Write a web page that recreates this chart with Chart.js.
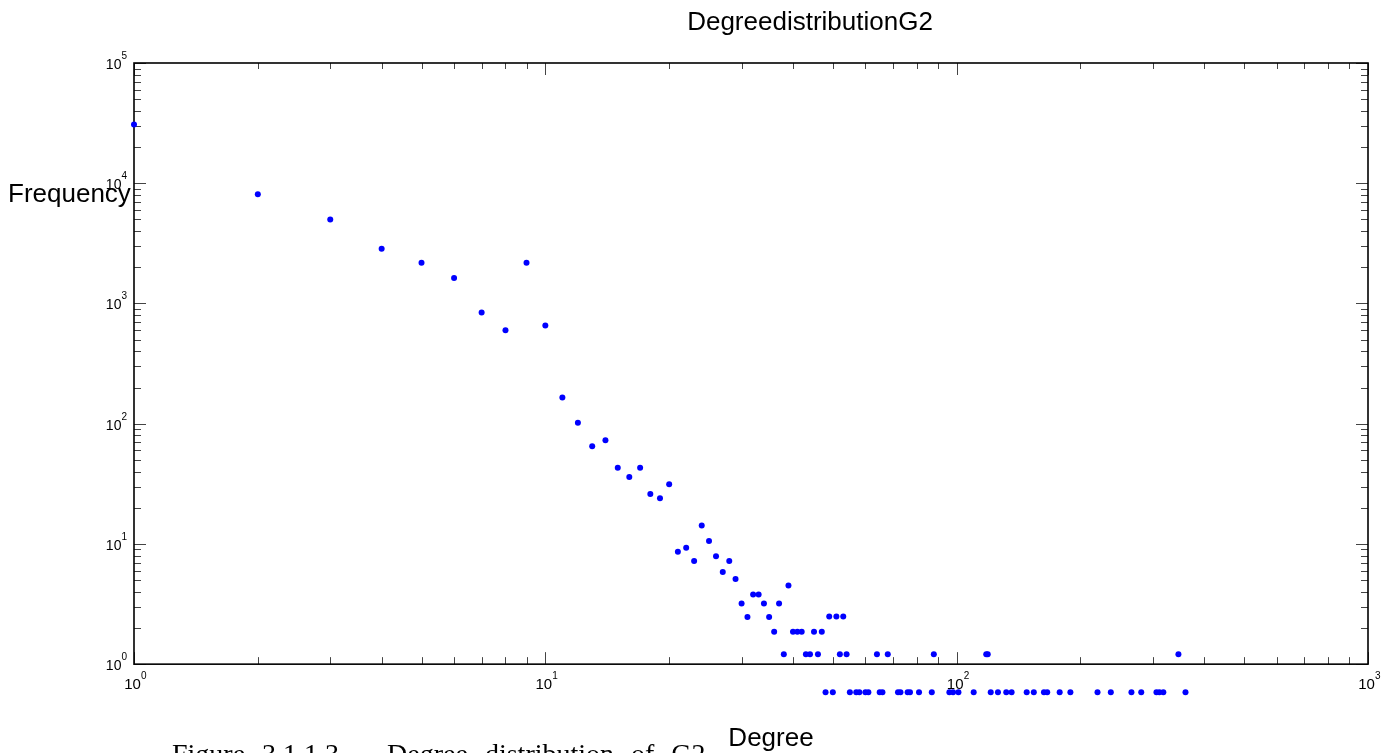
<!DOCTYPE html>
<html>
<head>
<meta charset="utf-8">
<script src="https://cdn.jsdelivr.net/npm/chart.js@4.4.1/dist/chart.umd.min.js"></script>
<style>
    html, body { margin: 0; padding: 0; background: #fff; }
    #wrap { width: 1397px; height: 753px; position: relative; }
</style>
</head>
<body>
<div id="wrap"><canvas id="degreeChart" width="1397" height="753"></canvas></div>
<script>
// Degree distribution of G2
const degrees = [
    1, 2, 3, 4, 5, 6, 7, 8, 9, 10,
    11, 12, 13, 14, 15, 16, 17, 18, 19, 20,
    21, 22, 23, 24, 25, 26, 27, 28, 29, 30,
    31, 32, 33, 34, 35, 36, 37, 38, 39, 40,
    41, 42, 43, 44, 45, 46, 47, 48, 49, 50,
    51, 52, 53, 54, 55, 57, 58, 60, 61, 64,
    65, 66, 68, 72, 73, 76, 77, 81, 87, 88,
    96, 98, 101, 110, 118, 119, 121, 126, 132, 136,
    148, 154, 163, 166, 178, 189, 220, 237, 266, 281,
    306, 311, 318, 346, 360
];
const frequencies = [
    30800, 8100, 5000, 2850, 2180, 1630, 840, 600, 2180, 655,
    165, 102, 65, 73, 43, 36, 43, 26, 24, 31.4,
    8.6, 9.3, 7.2, 14.2, 10.6, 7.9, 5.85, 7.2, 5.1, 3.2,
    2.47, 3.8, 3.8, 3.2, 2.47, 1.86, 3.2, 1.21, 4.5, 1.86,
    1.86, 1.86, 1.21, 1.21, 1.86, 1.21, 1.86, 0.585, 2.49, 0.585,
    2.49, 1.21, 2.49, 1.21, 0.585, 0.585, 0.585, 0.585, 0.585, 1.21,
    0.585, 0.585, 1.21, 0.585, 0.585, 0.585, 0.585, 0.585, 0.585, 1.21,
    0.585, 0.585, 0.585, 0.585, 1.21, 1.21, 0.585, 0.585, 0.585, 0.585,
    0.585, 0.585, 0.585, 0.585, 0.585, 0.585, 0.585, 0.585, 0.585, 0.585,
    0.585, 0.585, 0.585, 1.21, 0.585
];

// Axis decades (powers of ten)
const xDecades = [0, 1, 2, 3];
const yDecades = [0, 1, 2, 3, 4, 5];

const titleText = 'DegreedistributionG2';
const xLabelText = 'Degree';
const yLabelText = 'Frequency';
const captionText = 'Figure 3.1.1.3 \u2013 Degree distribution of G2';

const SANS = "'Liberation Sans', Arial, sans-serif";
const SERIF = "'Liberation Serif', 'Times New Roman', serif";

// The visible box runs from 10^0 to 10^5; the y scale goes a bit lower so the
// sub-1 points (drawn below the box in the original) are still painted.
const Y_BOX_MIN = 1;
const Y_BOX_MAX = 100000;

function boxOf(chart) {
    const xs = chart.scales.x;
    const ys = chart.scales.y;
    return {
        left: xs.getPixelForValue(xs.min),
        right: xs.getPixelForValue(xs.max),
        top: ys.getPixelForValue(Y_BOX_MAX),
        bottom: ys.getPixelForValue(Y_BOX_MIN)
    };
}

// Box frame with inward ticks on all four sides, drawn under the points
const framePlugin = {
    id: 'frame',
    beforeDatasetsDraw(chart) {
        const ctx = chart.ctx;
        const box = boxOf(chart);
        const xs = chart.scales.x;
        const ys = chart.scales.y;
        ctx.save();

        ctx.strokeStyle = '#444';
        ctx.lineWidth = 1;
        // x ticks (bottom and top)
        xDecades.forEach(d => {
            for (let k = 1; k <= 9; k++) {
                const v = k * Math.pow(10, d);
                if (v > xs.max) break;
                const px = Math.round(xs.getPixelForValue(v)) + 0.5;
                ctx.beginPath();
                ctx.moveTo(px, box.bottom);
                ctx.lineTo(px, box.bottom - (k === 1 ? 12 : 7));
                ctx.moveTo(px, box.top);
                ctx.lineTo(px, box.top + (k === 1 ? 12 : 6));
                ctx.stroke();
            }
        });
        // y ticks (left and right)
        yDecades.forEach(d => {
            for (let k = 1; k <= 9; k++) {
                const v = k * Math.pow(10, d);
                if (v > Y_BOX_MAX) break;
                const py = Math.round(ys.getPixelForValue(v)) + 0.5;
                const len = k === 1 ? 12 : 7;
                ctx.beginPath();
                ctx.moveTo(box.left, py);
                ctx.lineTo(box.left + len, py);
                ctx.moveTo(box.right, py);
                ctx.lineTo(box.right - len, py);
                ctx.stroke();
            }
        });

        ctx.strokeStyle = '#000';
        ctx.lineWidth = 1.6;
        ctx.strokeRect(box.left, box.top, box.right - box.left, box.bottom - box.top);
        ctx.restore();
    },
    afterDraw(chart) {
        const ctx = chart.ctx;
        const box = boxOf(chart);
        const xs = chart.scales.x;
        const ys = chart.scales.y;
        ctx.save();
        ctx.fillStyle = '#000';
        ctx.textBaseline = 'alphabetic';

        // y tick labels: 10 with superscript exponent
        yDecades.forEach(d => {
            const py = ys.getPixelForValue(Math.pow(10, d));
            ctx.font = '10px ' + SANS;
            const supW = ctx.measureText(String(d)).width;
            const supX = box.left - 7 - supW;
            ctx.textAlign = 'left';
            ctx.fillText(String(d), supX, py - 4);
            ctx.font = '14px ' + SANS;
            ctx.textAlign = 'right';
            ctx.fillText('10', supX, py + 6);
        });

        // x tick labels
        xDecades.forEach(d => {
            const px = xs.getPixelForValue(Math.pow(10, d));
            ctx.font = '15px ' + SANS;
            ctx.textAlign = 'center';
            ctx.fillText('10', px - 1.5, box.bottom + 25);
            ctx.font = '10px ' + SANS;
            ctx.textAlign = 'left';
            ctx.fillText(String(d), px + 7, box.bottom + 15);
        });

        // title and axis labels
        ctx.font = '26px ' + SANS;
        ctx.textAlign = 'center';
        ctx.fillText(titleText, 810, 30);
        ctx.fillText(xLabelText, 771, 746);
        ctx.textAlign = 'left';
        ctx.fillText(yLabelText, 8, 202);

        // figure caption, cut by the bottom edge
        ctx.font = '28px ' + SERIF;
        ctx.textAlign = 'left';
        if ('wordSpacing' in ctx) ctx.wordSpacing = '10px';
        ctx.fillText(captionText, 172, 763);

        ctx.restore();
    }
};

const points = degrees.map((d, i) => ({ x: d, y: frequencies[i] }));

new Chart(document.getElementById('degreeChart'), {
    type: 'scatter',
    data: {
        datasets: [{
            label: 'Degree distribution',
            data: points,
            backgroundColor: '#0000ff',
            borderWidth: 0,
            pointRadius: 3,
            pointHoverRadius: 3,
            clip: false
        }]
    },
    options: {
        responsive: false,
        animation: false,
        layout: {
            padding: { left: 134, right: 29, top: 63, bottom: 41 }
        },
        plugins: {
            legend: { display: false },
            tooltip: { enabled: false }
        },
        scales: {
            x: {
                type: 'logarithmic',
                min: 1,
                max: 1000,
                display: false
            },
            y: {
                type: 'logarithmic',
                min: 0.4,
                max: Y_BOX_MAX,
                display: false
            }
        }
    },
    plugins: [framePlugin]
});
</script>
</body>
</html>
